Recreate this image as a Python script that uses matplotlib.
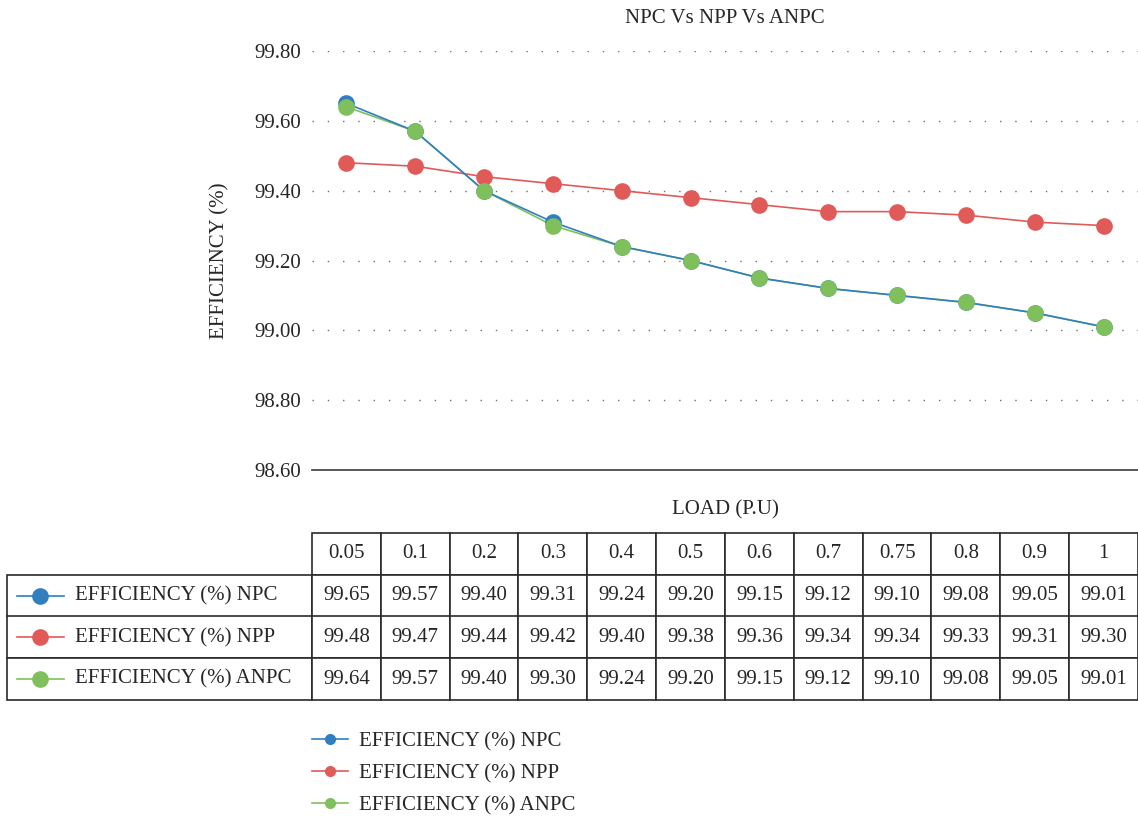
import matplotlib
matplotlib.use("Agg")
import matplotlib.pyplot as plt
from matplotlib.lines import Line2D

plt.rcParams['font.family'] = ['Liberation Serif', 'DejaVu Serif']

# Load points (per unit) and converter efficiencies (%)
loads = ["0.05", "0.1", "0.2", "0.3", "0.4", "0.5", "0.6", "0.7", "0.75", "0.8", "0.9", "1"]
eff_npc = [99.65, 99.57, 99.40, 99.31, 99.24, 99.20, 99.15, 99.12, 99.10, 99.08, 99.05, 99.01]
eff_npp = [99.48, 99.47, 99.44, 99.42, 99.40, 99.38, 99.36, 99.34, 99.34, 99.33, 99.31, 99.30]
eff_anpc = [99.64, 99.57, 99.40, 99.30, 99.24, 99.20, 99.15, 99.12, 99.10, 99.08, 99.05, 99.01]
series_names = ["EFFICIENCY (%) NPC", "EFFICIENCY (%) NPP", "EFFICIENCY (%) ANPC"]
y_ticks = [98.60, 98.80, 99.00, 99.20, 99.40, 99.60, 99.80]

colors = ["#2f7fc1", "#e05a57", "#80c05c"]
text_color = "#262626"
fs = 15

W, H = 1138, 816
fig = plt.figure(figsize=(W / 100, H / 100), dpi=100)

ax_l, ax_r, ax_t, ax_b = 312, 1138, 51, 470
ax = fig.add_axes([ax_l / W, 1 - ax_b / H, (ax_r - ax_l) / W, (ax_b - ax_t) / H])

x = list(range(len(loads)))
series = [eff_npc, eff_npp, eff_anpc]

# Connecting lines first (NPC line kept above ANPC line), markers on top
line_z = {0: 2.6, 1: 2.5, 2: 2.4}
for i, (vals, c) in enumerate(zip(series, colors)):
    ax.plot(x, vals, color=c, lw=1.2, zorder=line_z[i])
for i, (vals, c) in enumerate(zip(series, colors)):
    ax.plot(x, vals, linestyle="none", marker="o", markersize=12,
            markeredgewidth=0, color=c, zorder=3 + 0.1 * i)

ax.set_xlim(-0.5, len(loads) - 0.5)
ax.set_ylim(98.60, 99.80)
ax.set_yticks(y_ticks)
ax.set_yticklabels([f"{v:.2f}" for v in y_ticks], fontsize=fs, color=text_color)
ax.set_xticks([])
ax.tick_params(axis="y", length=0, pad=8)
ax.grid(axis="y", color="#6e6e6e", lw=1.0, linestyle=(0, (1, 10)))
for side in ["top", "right", "left"]:
    ax.spines[side].set_visible(False)
ax.spines["bottom"].set_color("#3a3a3a")
ax.spines["bottom"].set_linewidth(1.2)
ax.set_axisbelow(True)

ax.set_title("NPC Vs NPP Vs ANPC", fontsize=fs, color=text_color, pad=20)
ax.set_ylabel("EFFICIENCY (%)", fontsize=fs, color=text_color)
ax.yaxis.set_label_coords((229 - ax_l) / (ax_r - ax_l), 0.5)
ax.set_xlabel("LOAD (P.U)", fontsize=fs, color=text_color)
ax.xaxis.set_label_coords(0.5, (ax_b - 510) / (ax_b - ax_t))
ax.xaxis.label.set_va("center")

# Data table below the plot
tab_l, tab_r, tab_t, tab_b = 7, 1138, 533, 700
label_w = ax_l - tab_l
col_w = (ax_r - ax_l) / len(loads)
total_w = tab_r - tab_l
cell_text = [[name] + [f"{v:.2f}" for v in vals] for name, vals in zip(series_names, series)]
tbl = ax.table(cellText=cell_text,
               colLabels=[""] + loads,
               colWidths=[label_w / total_w] + [col_w / total_w] * len(loads),
               cellLoc="center",
               bbox=[(tab_l - ax_l) / (ax_r - ax_l), (ax_b - tab_b) / (ax_b - ax_t),
                     total_w / (ax_r - ax_l), (tab_b - tab_t) / (ax_b - ax_t)])
tbl.auto_set_font_size(False)
for (r, c), cell in tbl.get_celld().items():
    cell.set_edgecolor("#2a2a2a")
    cell.set_linewidth(1.2)
    cell.get_text().set_fontsize(fs)
    cell.get_text().set_color(text_color)
    if c == 0 and r > 0:
        cell.get_text().set_ha("left")
        cell.PAD = 68 / label_w
tbl[0, 0].visible_edges = ""

# Legend keys inside the row-label cells
row_h = (tab_b - tab_t) / 4
for i, c in enumerate(colors):
    yc = 1 - (tab_t + row_h * (i + 1.5)) / H
    fig.add_artist(Line2D([17 / W, 64 / W], [yc, yc], color=c, lw=1.2,
                          transform=fig.transFigure))
    fig.add_artist(Line2D([40 / W], [yc], color=c, marker="o", markersize=12,
                          markeredgewidth=0, transform=fig.transFigure))

leg_handles = [Line2D([0], [0], color=c, lw=1.2, marker="o", markersize=8,
                      markeredgewidth=0) for c in colors]
fig.legend(leg_handles, series_names, loc="upper left",
           bbox_to_anchor=(293 / W, 1 - 713 / H), frameon=False,
           fontsize=fs, labelcolor=text_color, handlelength=1.75,
           handletextpad=0.5, labelspacing=0.6)

fig.savefig("out.png", dpi=100)
